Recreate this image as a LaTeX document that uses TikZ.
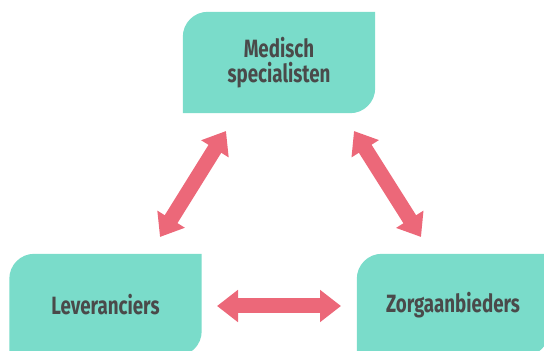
\documentclass[tikz,border=0pt]{standalone}
\usepackage{fontspec}
\newfontfamily\labelfont[FakeStretch=0.75]{Fira Sans}
\usetikzlibrary{arrows.meta,backgrounds}
\definecolor{boxteal}{HTML}{7ADCCA}
\definecolor{linkred}{HTML}{EC6879}
\definecolor{labelgray}{HTML}{4A4A4A}
\tikzset{
  party/.style={minimum width=192pt, minimum height=102pt, inner sep=0pt,
    align=center, text=labelgray,
    font=\labelfont\bfseries\fontsize{25}{25}\selectfont},
  link/.style={draw=linkred, line width=15pt,
    {Triangle[length=21pt,width=31pt]}-{Triangle[length=21pt,width=31pt]}},
}
% box with rounded top-left and bottom-right corners
\newcommand\leafshape[1]{%
  \fill[boxteal] (#1.south west) -- ([yshift=-25pt]#1.north west)
    arc[start angle=180,end angle=90,radius=25pt] -- (#1.north east)
    -- ([yshift=25pt]#1.south east)
    arc[start angle=0,end angle=-90,radius=25pt] -- cycle;}
\begin{document}
\begin{tikzpicture}[x=1pt,y=1pt]
  \useasboundingbox (0,0) rectangle (544,351);
  \node[party, minimum height=101pt] (spec) at (279,288.5) {Medisch\\specialisten};
  \node[party] (lev) at (105.5,46) {Leveranciers};
  \node[party] (zorg) at (453,46) {Zorgaanbieders};
  \begin{scope}[on background layer]
    \leafshape{spec}
    \leafshape{lev}
    \leafshape{zorg}
  \end{scope}
  \coordinate (specL) at (226,220);
  \coordinate (levT) at (160,114);
  \coordinate (specR) at (354,220);
  \coordinate (zorgT) at (421,114);
  \coordinate (levR) at (217,45);
  \coordinate (zorgL) at (341,45);
  \draw[link] (specL) -- (levT);
  \draw[link] (specR) -- (zorgT);
  \draw[link] (levR) -- (zorgL);
\end{tikzpicture}
\end{document}
